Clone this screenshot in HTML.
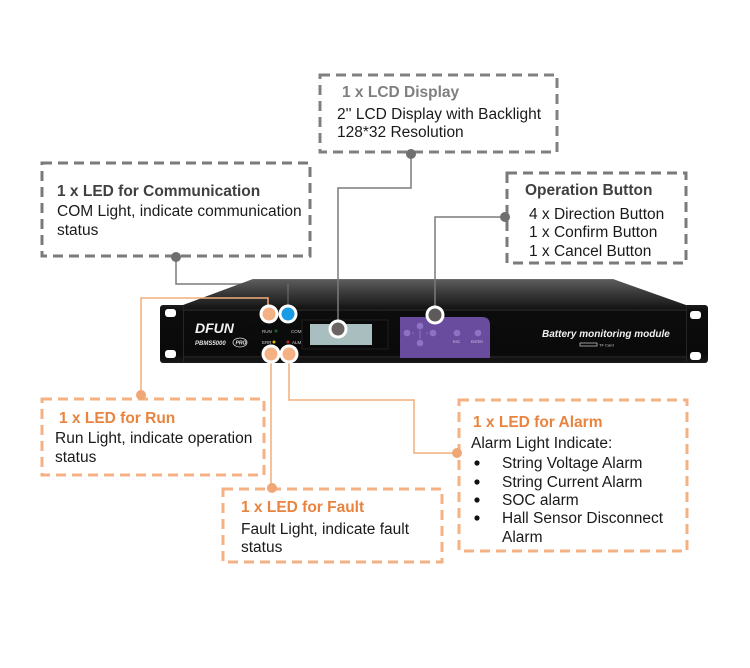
<!DOCTYPE html>
<html><head><meta charset="utf-8"><style>
html,body{margin:0;padding:0;background:#fff;}
svg{display:block;}
text{font-family:"Liberation Sans",Arial,sans-serif;}
</style></head><body>
<svg width="750" height="668" viewBox="0 0 750 668" xmlns="http://www.w3.org/2000/svg">
<defs>
<linearGradient id="topg" x1="0" y1="0" x2="0" y2="1">
<stop offset="0" stop-color="#5e5e5e"/><stop offset="0.5" stop-color="#3c3c3c"/><stop offset="1" stop-color="#1e1e1e"/>
</linearGradient>
<linearGradient id="frontg" x1="0" y1="0" x2="0" y2="1">
<stop offset="0" stop-color="#1c1c1c"/><stop offset="0.12" stop-color="#0c0c0c"/><stop offset="0.85" stop-color="#0a0a0a"/><stop offset="1" stop-color="#1a1a1a"/>
</linearGradient>
</defs>
<rect width="750" height="668" fill="#fff"/>

<!-- boxes -->
<g fill="none" stroke-width="3" stroke-dasharray="10,6">
<rect x="320" y="75" width="237" height="77" stroke="#808080"/>
<rect x="42" y="163" width="268" height="93" stroke="#7a7a7a"/>
<rect x="507" y="173" width="179" height="90" stroke="#7a7a7a"/>
<rect x="42" y="399" width="222" height="76" stroke="#f4b183"/>
<rect x="223" y="489" width="219" height="73" stroke="#f4b183"/>
<rect x="459" y="400" width="228" height="151" stroke="#f4b183"/>
</g>

<!-- COM connector (behind device) -->
<path d="M176,257 V284 H288 V314" fill="none" stroke="#7a7a7a" stroke-width="1.5"/>

<!-- device -->
<polygon points="253,279 613,279 686,305 183,305" fill="url(#topg)"/>
<line x1="253" y1="279.5" x2="613" y2="279.5" stroke="#6a6a6a" stroke-width="1"/>
<path d="M288,284 V305" stroke="#9a9a9a" stroke-width="1" opacity="0.6"/>
<rect x="160" y="305" width="548" height="58" rx="3" fill="url(#frontg)"/>
<line x1="184" y1="310" x2="686" y2="310" stroke="#2c2c2c" stroke-width="1"/>
<line x1="184" y1="357" x2="686" y2="357" stroke="#2a2a2a" stroke-width="1"/>
<line x1="183.5" y1="306" x2="183.5" y2="362" stroke="#262626" stroke-width="1"/>
<line x1="686.5" y1="306" x2="686.5" y2="362" stroke="#262626" stroke-width="1"/>
<!-- holes -->
<rect x="165" y="309" width="11" height="8" rx="3" fill="#fff"/>
<rect x="165" y="350" width="11" height="8" rx="3" fill="#fff"/>
<rect x="690" y="311" width="11" height="8" rx="3" fill="#fff"/>
<rect x="690" y="352" width="11" height="8" rx="3" fill="#fff"/>
<!-- branding -->
<text x="195" y="333" font-size="14" font-weight="bold" font-style="italic" fill="#f2f2f2">DFUN</text>
<text x="195" y="345" font-size="6" font-weight="bold" font-style="italic" fill="#e0e0e0">PBMS5000</text>
<ellipse cx="240" cy="342.5" rx="7" ry="4.5" fill="none" stroke="#ddd" stroke-width="0.8"/>
<text x="235.5" y="344.5" font-size="5" font-weight="bold" font-style="italic" fill="#eee">PRO</text>
<text x="262" y="333" font-size="4.5" fill="#ccc">RUN</text>
<text x="291" y="333" font-size="4.5" fill="#ccc">COM</text>
<text x="262" y="344" font-size="4.5" fill="#ccc">ERR</text>
<text x="292" y="344" font-size="4.5" fill="#ccc">ALM</text>
<circle cx="276" cy="331" r="1.5" fill="#1f5e2a"/>
<circle cx="274" cy="342" r="1.5" fill="#e8b400"/>
<circle cx="288" cy="342" r="1.5" fill="#c0241b"/>
<!-- LCD -->
<rect x="302" y="320" width="86" height="29" fill="#0a0a0a" stroke="#1e1e1e" stroke-width="1"/>
<rect x="310" y="324" width="62" height="21" fill="#a9bfbf"/>
<!-- purple panel -->
<path d="M400,317 H482 Q490,317 490,325 V358 H400 Z" fill="#6a4c9e"/>
<g fill="#8e72c6">
<circle cx="420" cy="326" r="3.3"/>
<circle cx="407" cy="333" r="3.3"/>
<circle cx="433" cy="333" r="3.3"/>
<circle cx="420" cy="343" r="3.3"/>
<circle cx="457" cy="333" r="3.3"/>
<circle cx="478" cy="333" r="3.3"/>
</g>
<line x1="420" y1="330" x2="420" y2="339" stroke="#8e72c6" stroke-width="1"/>
<circle cx="413" cy="333" r="0.8" fill="#8e72c6"/><circle cx="427" cy="333" r="0.8" fill="#8e72c6"/>
<text x="453" y="343" font-size="3.5" fill="#d8ccf0">ESC</text>
<text x="471" y="343" font-size="3.5" fill="#d8ccf0">ENTER</text>
<!-- label -->
<text x="542" y="337" font-size="10" font-weight="bold" font-style="italic" fill="#f0f0f0">Battery monitoring module</text>
<rect x="580" y="343" width="17" height="3" fill="none" stroke="#bbb" stroke-width="0.8"/>
<text x="599" y="346.5" font-size="4" fill="#ccc">TF Card</text>

<!-- connectors on top -->
<g fill="none" stroke-width="1.5">
<path d="M141,395 V298 H268 V314" stroke="#f2ad7c"/>
<path d="M271,487 V354" stroke="#f2ad7c"/>
<path d="M289,354 V400 H414 V453 H459" stroke="#f2ad7c"/>
<path d="M411,152 V188 H338 V329" stroke="#7a7a7a"/>
<path d="M505,217 H435 V315" stroke="#7a7a7a"/>
</g>

<!-- LED dots -->
<circle cx="269" cy="314" r="9.5" fill="#fff"/><circle cx="269" cy="314" r="6.5" fill="#f4b183"/>
<circle cx="288" cy="314" r="9.5" fill="#fff"/><circle cx="288" cy="314" r="6.5" fill="#1a9be6"/>
<circle cx="271" cy="354" r="9.5" fill="#fff"/><circle cx="271" cy="354" r="6.5" fill="#f4b183"/>
<circle cx="289" cy="354" r="9.5" fill="#fff"/><circle cx="289" cy="354" r="6.5" fill="#f4b183"/>
<circle cx="338" cy="329" r="9.5" fill="#fff"/><circle cx="338" cy="329" r="6.5" fill="#6b6464"/>
<circle cx="435" cy="315" r="9.5" fill="#fff"/><circle cx="435" cy="315" r="6.5" fill="#5e5a5a"/>

<!-- endpoint dots -->
<circle cx="411" cy="154" r="5" fill="#6f6f6f"/>
<circle cx="176" cy="257" r="5" fill="#6f6f6f"/>
<circle cx="505" cy="217" r="5" fill="#6f6f6f"/>
<circle cx="141" cy="395" r="5" fill="#f0a775"/>
<circle cx="272" cy="488" r="5" fill="#f0a775"/>
<circle cx="457" cy="453" r="5" fill="#f0a775"/>

<!-- texts -->
<g font-size="15.5" fill="#1a1a1a">
<text x="342" y="97" font-weight="bold" fill="#7f7f7f">1 x LCD Display</text>
<text x="337" y="119">2'' LCD Display with Backlight</text>
<text x="337" y="137">128*32 Resolution</text>

<text x="57" y="196" font-weight="bold" fill="#404040">1 x LED for Communication</text>
<text x="57" y="216">COM Light, indicate communication</text>
<text x="57" y="235">status</text>

<text x="525" y="195" font-weight="bold" fill="#404040">Operation Button</text>
<text x="529" y="219">4 x Direction Button</text>
<text x="529" y="237">1 x Confirm Button</text>
<text x="529" y="256">1 x Cancel Button</text>

<text x="59" y="423" font-weight="bold" fill="#e8843f">1 x LED for Run</text>
<text x="55" y="443">Run Light, indicate operation</text>
<text x="55" y="462">status</text>

<text x="241" y="512" font-weight="bold" fill="#e8843f">1 x LED for Fault</text>
<text x="241" y="534">Fault Light, indicate fault</text>
<text x="241" y="552">status</text>

<text x="473" y="427" font-weight="bold" fill="#e8843f">1 x LED for Alarm</text>
<text x="471" y="448">Alarm Light Indicate:</text>
<text x="502" y="468">String Voltage Alarm</text>
<text x="502" y="487">String Current Alarm</text>
<text x="502" y="505">SOC alarm</text>
<text x="502" y="523">Hall Sensor Disconnect</text>
<text x="502" y="542">Alarm</text>
</g>
<g fill="#111">
<circle cx="477" cy="463" r="2.6"/>
<circle cx="477" cy="482" r="2.6"/>
<circle cx="477" cy="500" r="2.6"/>
<circle cx="477" cy="518" r="2.6"/>
</g>
</svg>
</body></html>
